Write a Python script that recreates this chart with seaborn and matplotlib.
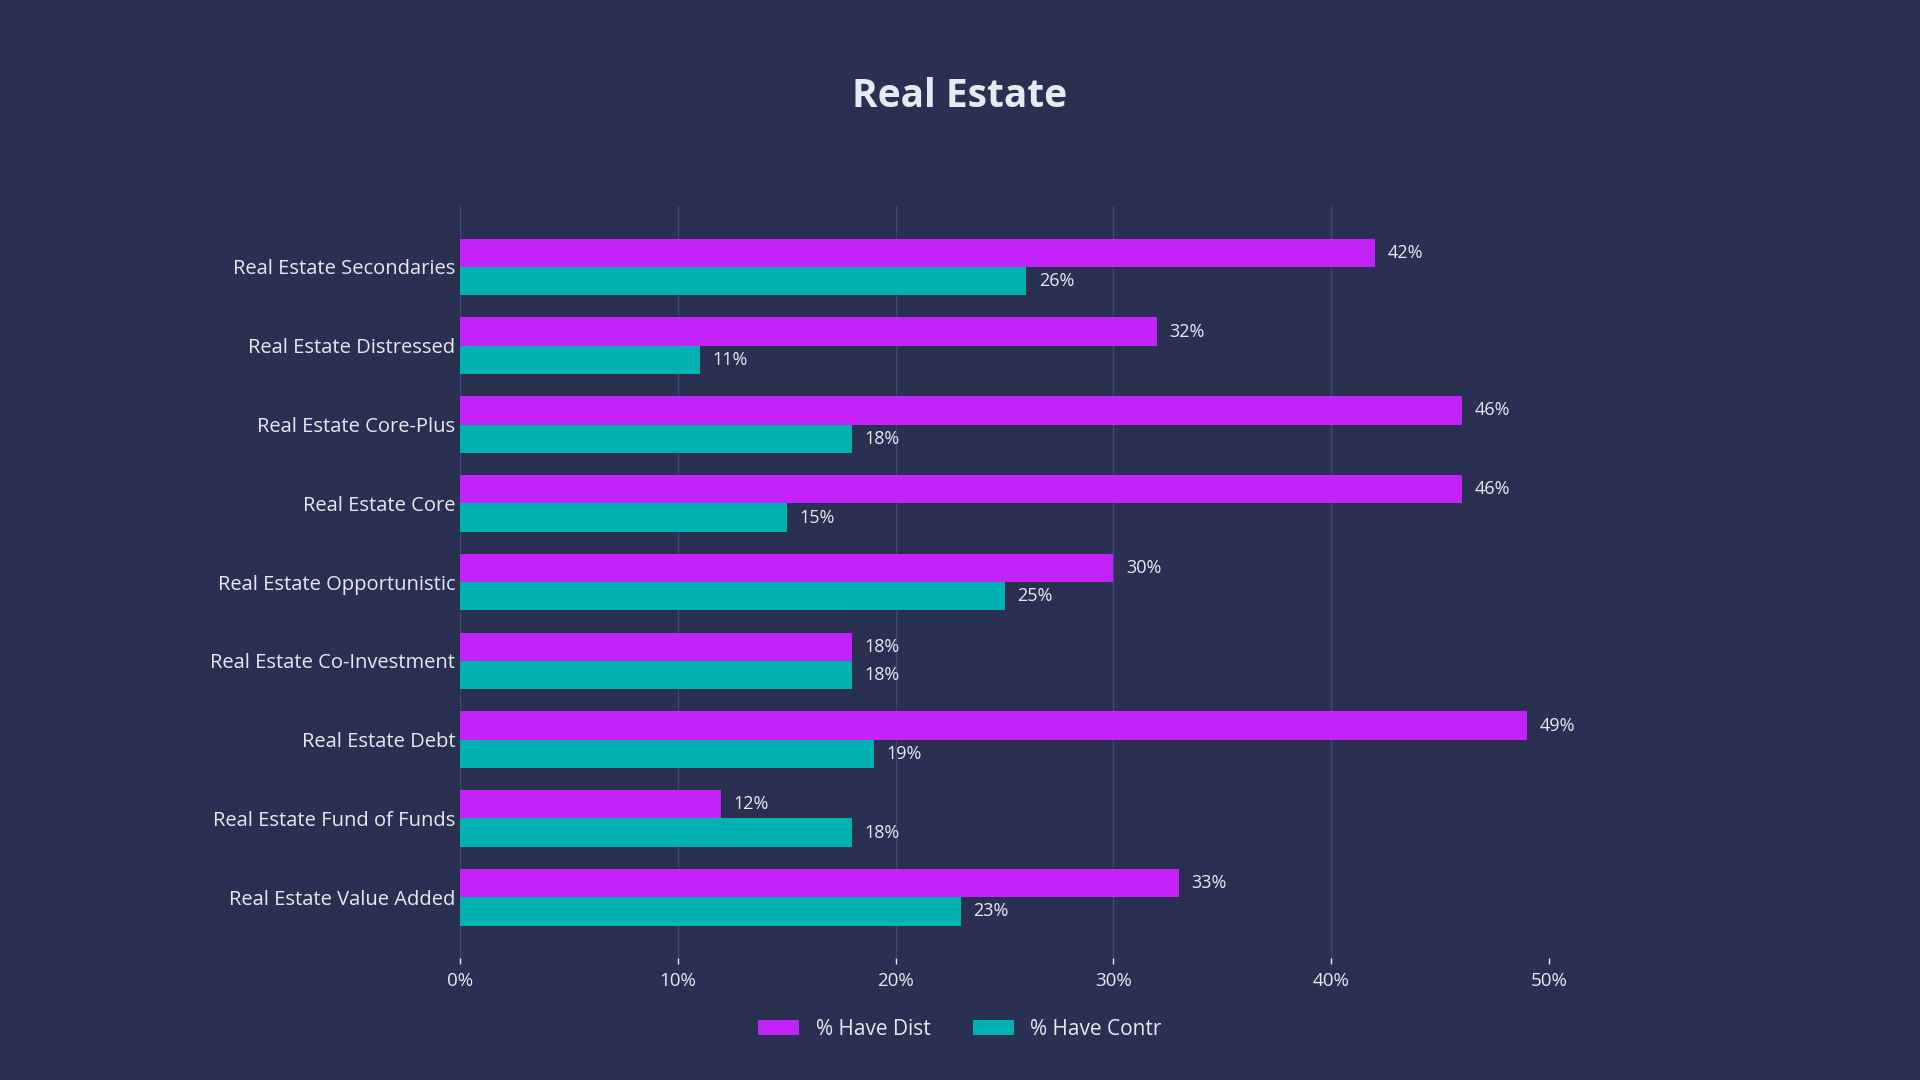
import matplotlib
matplotlib.use("Agg")
import matplotlib.pyplot as plt
import seaborn as sns
import pandas as pd
from matplotlib.patches import Patch

categories = [
    "Real Estate Secondaries",
    "Real Estate Distressed",
    "Real Estate Core-Plus",
    "Real Estate Core",
    "Real Estate Opportunistic",
    "Real Estate Co-Investment",
    "Real Estate Debt",
    "Real Estate Fund of Funds",
    "Real Estate Value Added",
]
have_dist = [42, 32, 46, 46, 30, 18, 49, 12, 33]
have_contr = [26, 11, 18, 15, 25, 18, 19, 18, 23]
series_names = ["% Have Dist", "% Have Contr"]
x_ticks = [0, 10, 20, 30, 40, 50]

BG = "#2a3052"
TXT = "#e6ebf1"
GRID = "#3e4672"
COLORS = ["#c322f8", "#00b1b2"]

sns.set_theme(style="dark")
plt.rcParams["font.family"] = ["Open Sans", "DejaVu Sans"]

df = pd.DataFrame({
    "category": categories * 2,
    "value": have_dist + have_contr,
    "series": [series_names[0]] * len(categories) + [series_names[1]] * len(categories),
})

fig = plt.figure(figsize=(19.2, 10.8), dpi=100, facecolor=BG)
ax = fig.add_axes([0.2396, 0.113, 0.5672, 0.696])
ax.set_facecolor(BG)

sns.barplot(data=df, y="category", x="value", hue="series", order=categories,
            hue_order=series_names, palette=COLORS, width=0.72, saturation=1,
            orient="h", ax=ax, legend=False, linewidth=0, edgecolor="none")

for cont in ax.containers:
    ax.bar_label(cont, labels=[f"{v:.0f}%" for v in cont.datavalues],
                 padding=9, color=TXT, fontsize=13)

ax.set_xlim(0, 50)
ax.set_ylim(8.77, -0.77)
ax.set_xticks(x_ticks)
ax.set_xticklabels([f"{t}%" for t in x_ticks])
ax.set_xlabel("")
ax.set_ylabel("")
ax.grid(axis="x", color=GRID, linewidth=1)
ax.grid(axis="y", visible=False)
ax.set_axisbelow(True)
for s in ax.spines.values():
    s.set_visible(False)
ax.tick_params(axis="x", colors=TXT, labelsize=13.5, length=4, width=1,
               direction="out", pad=6, bottom=True)
ax.tick_params(axis="y", colors=TXT, labelsize=14.5, length=0, pad=3.5)
for lbl in ax.get_xticklabels() + ax.get_yticklabels():
    lbl.set_color(TXT)

fig.text(0.5, 0.911, "Real Estate", ha="center", va="center", color=TXT,
         fontsize=28, fontweight="bold")

handles = [Patch(facecolor=c, edgecolor="none") for c in COLORS]
leg = fig.legend(handles, series_names, loc="center", bbox_to_anchor=(0.5, 0.047),
                 ncol=2, frameon=False, fontsize=15, labelcolor=TXT,
                 handlelength=1.95, handleheight=0.72, columnspacing=2.05,
                 handletextpad=0.8)

fig.savefig("out.png", dpi=100, facecolor=BG)
